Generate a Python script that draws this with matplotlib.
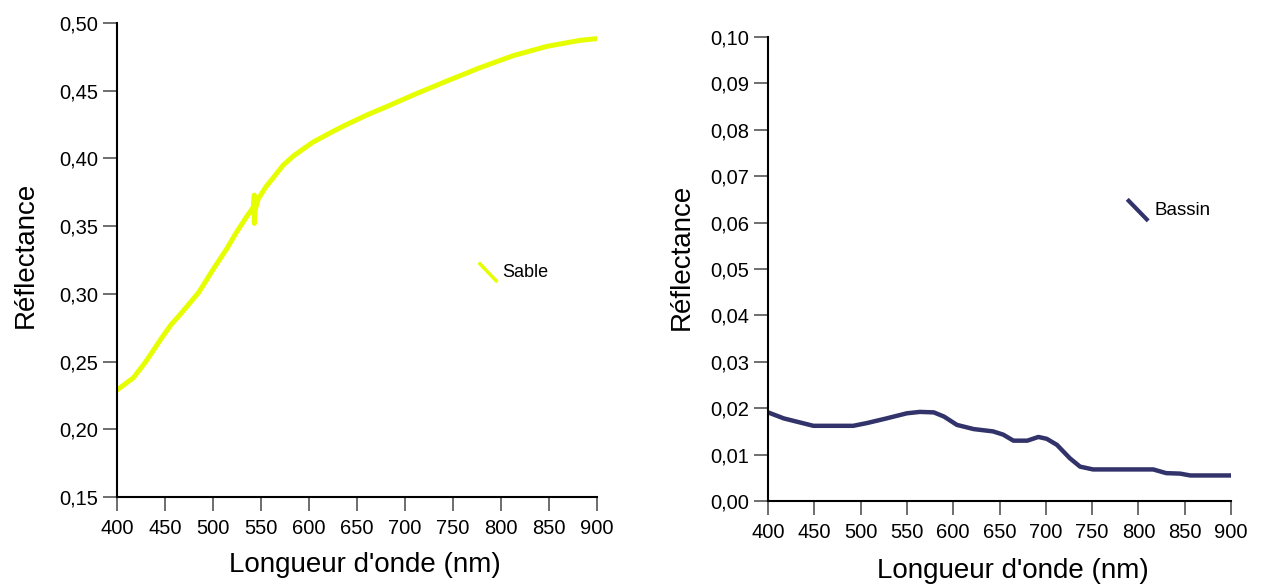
import matplotlib
matplotlib.use("Agg")
import matplotlib.pyplot as plt
from matplotlib.ticker import FuncFormatter, MultipleLocator

plt.rcParams["font.family"] = ["Liberation Sans", "DejaVu Sans"]

# ---------------- données ----------------
sable_nm = [400, 417, 430, 446, 456, 466, 485, 500, 514, 524, 535, 542, 543, 543, 544, 547,
            555, 563, 573, 584, 594, 604, 625, 639, 660, 680, 709, 743, 778, 813, 848,
            882, 900]
sable_refl = [0.229, 0.238, 0.250, 0.267, 0.277, 0.285, 0.301, 0.318, 0.333, 0.345, 0.357,
              0.364, 0.373, 0.352, 0.362, 0.370, 0.379, 0.386, 0.395, 0.402, 0.407, 0.412,
              0.420, 0.425, 0.432, 0.438, 0.447, 0.457, 0.467, 0.476, 0.4828, 0.4872,
              0.4885]

bassin_nm = [400, 417, 435, 449, 492, 507, 528, 550, 564, 579, 590, 604, 622, 643, 654,
             665, 680, 692, 701, 712, 726, 737, 751, 816, 830, 845, 856, 900]
bassin_refl = [0.0191, 0.0178, 0.0169, 0.0162, 0.0162, 0.0168, 0.0178, 0.0189, 0.0192,
               0.0191, 0.0182, 0.0164, 0.0155, 0.0150, 0.0143, 0.0130, 0.0130, 0.0138,
               0.0134, 0.0121, 0.0092, 0.0074, 0.0068, 0.0068, 0.0060, 0.0059, 0.0055,
               0.0055]

SABLE_COLOR = "#e6ff00"
BASSIN_COLOR = "#33336b"

comma = FuncFormatter(lambda v, p: f"{v:.2f}".replace(".", ","))


def style_axes(ax, ylim, ystep):
    ax.set_xlim(400, 900)
    ax.set_ylim(*ylim)
    ax.xaxis.set_major_locator(MultipleLocator(50))
    ax.yaxis.set_major_locator(MultipleLocator(ystep))
    ax.yaxis.set_major_formatter(comma)
    for s in ("top", "right"):
        ax.spines[s].set_visible(False)
    for s in ("left", "bottom"):
        ax.spines[s].set_linewidth(1.5)
    ax.tick_params(axis="both", direction="out", length=10, width=1.2,
                   color="#555555", labelsize=14.5)
    ax.tick_params(axis="x", pad=6)
    ax.set_xlabel("Longueur d'onde (nm)", fontsize=20)
    ax.set_ylabel("Réflectance", fontsize=20)


fig = plt.figure(figsize=(12.64, 5.88), dpi=100)

ax1 = fig.add_axes([0.0926, 0.1548, 0.3797, 0.806])
ax1.plot(sable_nm, sable_refl, color=SABLE_COLOR, lw=3.6)
style_axes(ax1, (0.15, 0.50), 0.05)
ax1.xaxis.set_label_coords(0.517, -0.116)
ax1.yaxis.set_label_coords(-0.1625, 0.51)
ax1.plot([0.756, 0.79], [0.492, 0.456], transform=ax1.transAxes, color=SABLE_COLOR, lw=2.5)
ax1.text(0.803, 0.474, "Sable", transform=ax1.transAxes, fontsize=13, va="center")

ax2 = fig.add_axes([0.6076, 0.148, 0.3663, 0.789])
ax2.plot(bassin_nm, bassin_refl, color=BASSIN_COLOR, lw=3.2)
style_axes(ax2, (0.0, 0.10), 0.01)
ax2.xaxis.set_label_coords(0.528, -0.123)
ax2.yaxis.set_label_coords(-0.158, 0.526)
ax2.plot([0.779, 0.818], [0.647, 0.607], transform=ax2.transAxes, color=BASSIN_COLOR, lw=3)
ax2.text(0.835, 0.627, "Bassin", transform=ax2.transAxes, fontsize=13.5, va="center")

fig.savefig("out.png", dpi=100)
